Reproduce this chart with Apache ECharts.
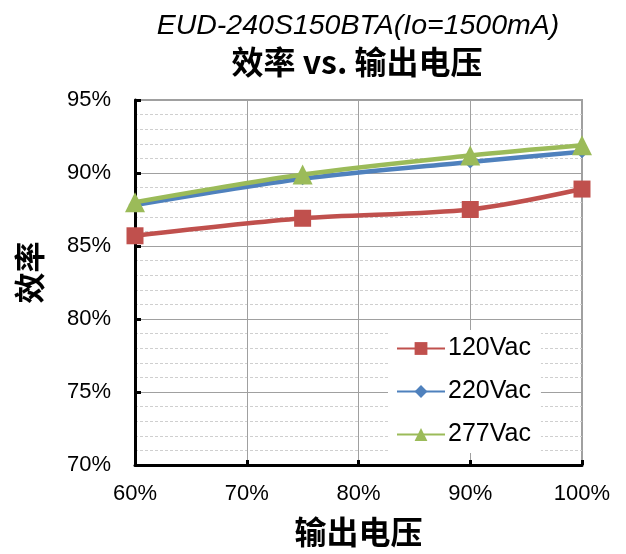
<!DOCTYPE html>
<html><head><meta charset="utf-8">
<script src="https://cdn.jsdelivr.net/npm/echarts@6/dist/echarts.min.js"></script>
<style>html,body{margin:0;padding:0;background:#fff}#c{width:626px;height:554px}</style>
</head><body><div id="c"></div>
<script>
const xValues = [60, 75, 90, 100];
const s120 = [85.7, 86.9, 87.5, 88.9];
const s220 = [87.8, 89.6, 90.75, 91.45];
const s277 = [88.0, 89.9, 91.2, 91.9];
const seriesNames = ['120Vac', '220Vac', '277Vac'];
const colors = ['#C0504D', '#4F81BD', '#9BBB59'];

const toPairs = arr => arr.map((v, i) => [xValues[i], v]);
const chart = echarts.init(document.getElementById('c'));
const font = '"Liberation Sans", Arial, sans-serif';
const cjk = '"Noto Sans CJK SC", "Liberation Sans", sans-serif';
chart.setOption({
  animation: false,
  title: [
    {text: 'EUD-240S150BTA(Io=1500mA)', left: 353, top: 7, textAlign: 'center',
     textStyle: {fontFamily: font, fontStyle: 'italic', fontWeight: 'normal', fontSize: 28.5, color: '#000'}},
    {text: '效率 vs. 输出电压', left: 352, top: 41, textAlign: 'center',
     textStyle: {fontFamily: cjk, fontWeight: 'bold', fontSize: 32, color: '#000'}}
  ],
  grid: {left: 135, right: 44, top: 100, bottom: 89, show: true, borderColor: '#a0a0a0', borderWidth: 2},
  legend: {
    orient: 'vertical', left: 388, top: 330, itemWidth: 48, itemHeight: 16, itemGap: 18,
    backgroundColor: '#fff', padding: [6, 10, 6, 8],
    textStyle: {fontFamily: font, fontSize: 25, color: '#000', padding: [0, 0, 0, -2]},
    data: seriesNames
  },
  xAxis: {
    type: 'value', min: 60, max: 100, interval: 10,
    name: '输出电压', nameLocation: 'middle', nameGap: 51,
    nameTextStyle: {fontFamily: cjk, fontWeight: 'bold', fontSize: 32, color: '#000'},
    axisLine: {show: true, lineStyle: {color: '#000', width: 3}},
    axisTick: {show: true, inside: true, length: 5, lineStyle: {color: '#000', width: 3}},
    axisLabel: {fontFamily: font, fontSize: 22, color: '#000', margin: 18, formatter: v => v + '%'},
    splitLine: {show: true, lineStyle: {color: '#a0a0a0', width: 1}}
  },
  yAxis: {
    type: 'value', min: 70, max: 95, interval: 5,
    name: '效率', nameLocation: 'middle', nameGap: 90, nameRotate: 90,
    nameTextStyle: {fontFamily: cjk, fontWeight: 'bold', fontSize: 31, color: '#000', padding: [0, 0, 0, 20]},
    axisLine: {show: true, lineStyle: {color: '#000', width: 3}},
    axisTick: {show: true, inside: true, length: 6, lineStyle: {color: '#000', width: 3}},
    axisLabel: {fontFamily: font, fontSize: 22, color: '#000', margin: 24, formatter: v => v + '%'},
    splitLine: {show: true, lineStyle: {color: '#a0a0a0', width: 1}},
    minorTick: {show: false, splitNumber: 5},
    minorSplitLine: {show: true, lineStyle: {color: '#cfcfcf', width: 1, type: [3, 2]}}
  },
  series: [
    {name: seriesNames[0], type: 'line', data: toPairs(s120), smooth: 0.3, symbol: 'rect', symbolSize: 17,
     lineStyle: {width: 4.5, color: colors[0]}, itemStyle: {color: colors[0]}},
    {name: seriesNames[1], type: 'line', data: toPairs(s220), smooth: 0.3, symbol: 'diamond', symbolSize: 13,
     lineStyle: {width: 4.5, color: colors[1]}, itemStyle: {color: colors[1]}},
    {name: seriesNames[2], type: 'line', data: toPairs(s277), smooth: 0.3, symbol: 'triangle', symbolSize: 20,
     lineStyle: {width: 4.5, color: colors[2]}, itemStyle: {color: colors[2]}}
  ]
});
</script></body></html>
